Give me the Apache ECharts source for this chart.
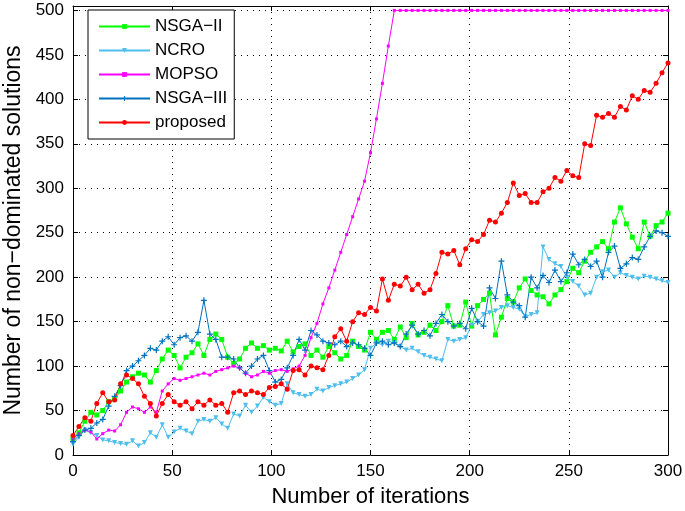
<!DOCTYPE html>
<html>
<head>
<meta charset="utf-8">
<title>Number of non-dominated solutions</title>
<script src="https://cdn.jsdelivr.net/npm/echarts@6/dist/echarts.min.js"></script>
<style>
html, body { margin: 0; padding: 0; background: #fff; }
#chart { width: 685px; height: 511px; }
</style>
</head>
<body>
<div id="chart"></div>
<script>
// iterations, sampled every 3 steps (0..300)
const iterations = Array.from({ length: 101 }, (_, i) => i * 3);

const xTicks = [0, 50, 100, 150, 200, 250, 300];
const yTicks = [0, 50, 100, 150, 200, 250, 300, 350, 400, 450, 500];

const nsga2 = [18, 25, 38, 48, 45, 50, 60, 63, 72, 82,
    88, 92, 90, 82, 95, 108, 118, 112, 98, 110,
    115, 125, 112, 130, 136, 130, 110, 103, 108, 120,
    126, 120, 123, 118, 120, 117, 128, 116, 122, 125,
    112, 118, 110, 122, 115, 108, 112, 128, 122, 118,
    138, 130, 138, 140, 130, 144, 132, 148, 135, 138,
    146, 140, 150, 168, 145, 146, 172, 145, 168, 175,
    182, 135, 155, 176, 172, 188, 198, 185, 180, 178,
    170, 180, 186, 195, 210, 205, 218, 228, 234, 240,
    232, 262, 278, 260, 245, 232, 262, 246, 258, 262,
    272];

const ncro = [12, 20, 28, 25, 22, 17, 16, 14, 13, 12,
    16, 10, 14, 25, 20, 34, 20, 26, 30, 27,
    24, 38, 40, 38, 42, 35, 30, 46, 44, 56,
    48, 55, 65, 60, 56, 58, 80, 70, 68, 66,
    68, 74, 72, 76, 78, 80, 82, 86, 90, 96,
    120, 126, 124, 128, 126, 122, 118, 120, 116, 112,
    110, 108, 106, 130, 128, 130, 132, 146, 150, 158,
    160, 162, 166, 168, 166, 164, 156, 158, 160, 234,
    220, 215, 212, 200, 195, 190, 180, 182, 200, 206,
    208, 200, 205, 202, 200, 198, 201, 200, 198, 196,
    194];

const mopso = [18, 24, 28, 26, 18, 24, 28, 27, 34, 48,
    54, 52, 48, 54, 48, 72, 80, 86, 84, 86,
    88, 90, 92, 90, 94, 96, 98, 100, 98, 92,
    88, 90, 94, 92, 95, 96, 94, 97, 100, 112,
    132, 148, 170, 188, 208, 228, 248, 268, 288, 308,
    340, 378, 418, 460, 500, 500, 500, 500, 500, 500,
    500, 500, 500, 500, 500, 500, 500, 500, 500, 500,
    500, 500, 500, 500, 500, 500, 500, 500, 500, 500,
    500, 500, 500, 500, 500, 500, 500, 500, 500, 500,
    500, 500, 500, 500, 500, 500, 500, 500, 500, 500,
    500];

const nsga3 = [15, 22, 28, 30, 36, 40, 55, 66, 78, 95,
    100, 106, 112, 120, 118, 128, 133, 124, 132, 134,
    128, 138, 174, 136, 130, 110, 110, 108, 98, 92,
    100, 108, 112, 95, 82, 85, 98, 112, 130, 118,
    140, 135, 128, 126, 124, 128, 122, 126, 124, 120,
    112, 126, 128, 124, 126, 122, 136, 146, 136, 140,
    134, 148, 158, 150, 145, 148, 142, 165, 150, 145,
    188, 176, 218, 180, 172, 168, 155, 200, 188, 202,
    194, 208, 195, 205, 226, 214, 220, 212, 218, 200,
    228, 235, 210, 215, 222, 220, 234, 246, 252, 250,
    246];

const proposed = [22, 32, 42, 38, 58, 70, 60, 62, 80, 90,
    86, 80, 66, 58, 44, 58, 68, 60, 56, 60,
    52, 60, 56, 62, 56, 58, 48, 70, 72, 68,
    72, 70, 68, 76, 77, 80, 74, 95, 96, 90,
    100, 98, 96, 112, 133, 142, 128, 150, 160, 158,
    166, 162, 198, 174, 192, 190, 200, 186, 192, 182,
    186, 204, 228, 226, 230, 214, 232, 242, 240, 248,
    264, 262, 272, 284, 306, 292, 294, 284, 284, 296,
    300, 312, 308, 320, 314, 312, 350, 348, 382, 380,
    384, 380, 392, 388, 404, 400, 410, 408, 418, 430,
    441];

const font = '"Liberation Sans", Arial, Helvetica, sans-serif';
const plusIcon = 'path://M2,0H3V2H5V3H3V5H2V3H0V2H2Z';

function makeSeries(name, values, color, symbol, size, rotate) {
    return {
        name: name,
        type: 'line',
        data: iterations.map((it, i) => [it, values[i]]),
        symbol: symbol,
        symbolSize: size,
        symbolRotate: rotate || 0,
        showAllSymbol: true,
        lineStyle: { color: color, width: 1 },
        itemStyle: { color: color },
        emphasis: { disabled: true }
    };
}

function boxAxis(type, pos, max, interval, main) {
    return {
        type: 'value',
        position: pos,
        min: 0,
        max: max,
        interval: interval,
        axisLine: { show: true, onZero: false, lineStyle: { color: '#000', width: 1 } },
        axisTick: { show: true, inside: true, length: 5, lineStyle: { color: '#000' } },
        axisLabel: {
            show: main,
            color: '#000',
            fontSize: 17,
            fontFamily: font,
            margin: type === 'x' ? 8 : 9,
            showMaxLabel: type === 'x'
        },
        splitLine: { show: main, lineStyle: { color: '#000', type: [1, 5], width: 1 } }
    };
}

const chart = echarts.init(document.getElementById('chart'));

const xMain = boxAxis('x', 'bottom', 300, 50, true);
xMain.name = 'Number of iterations';
xMain.nameLocation = 'middle';
xMain.nameGap = 31;
xMain.nameTextStyle = { color: '#000', fontSize: 22, fontFamily: font };

const yMain = boxAxis('y', 'left', 505, 50, true);
yMain.name = 'Number of non\u2212dominated solutions';
yMain.nameLocation = 'middle';
yMain.nameGap = 47;
yMain.nameTextStyle = { color: '#000', fontSize: 23, fontFamily: font };

chart.setOption({
    animation: false,
    backgroundColor: '#fff',
    grid: { left: 73, right: 17, top: 6, bottom: 56, outerBoundsMode: 'none' },
    xAxis: [xMain, boxAxis('x', 'top', 300, 50, false)],
    yAxis: [yMain, boxAxis('y', 'right', 505, 50, false)],
    legend: {
        orient: 'vertical',
        left: 88,
        top: 10,
        padding: [8, 7, 8, 10],
        itemWidth: 51,
        itemHeight: 6,
        itemGap: 7,
        borderColor: '#000',
        borderWidth: 1,
        backgroundColor: '#fff',
        textStyle: { color: '#000', fontSize: 17, lineHeight: 17, fontFamily: font }
    },
    series: [
        makeSeries('NSGA\u2212II', nsga2, '#00ff00', 'rect', 5),
        makeSeries('NCRO', ncro, '#4dbeee', 'triangle', 5, 180),
        makeSeries('MOPSO', mopso, '#ff00ff', 'rect', 3),
        makeSeries('NSGA\u2212III', nsga3, '#0072bd', plusIcon, 6),
        makeSeries('proposed', proposed, '#ff0000', 'circle', 5)
    ]
});
</script>
</body>
</html>
